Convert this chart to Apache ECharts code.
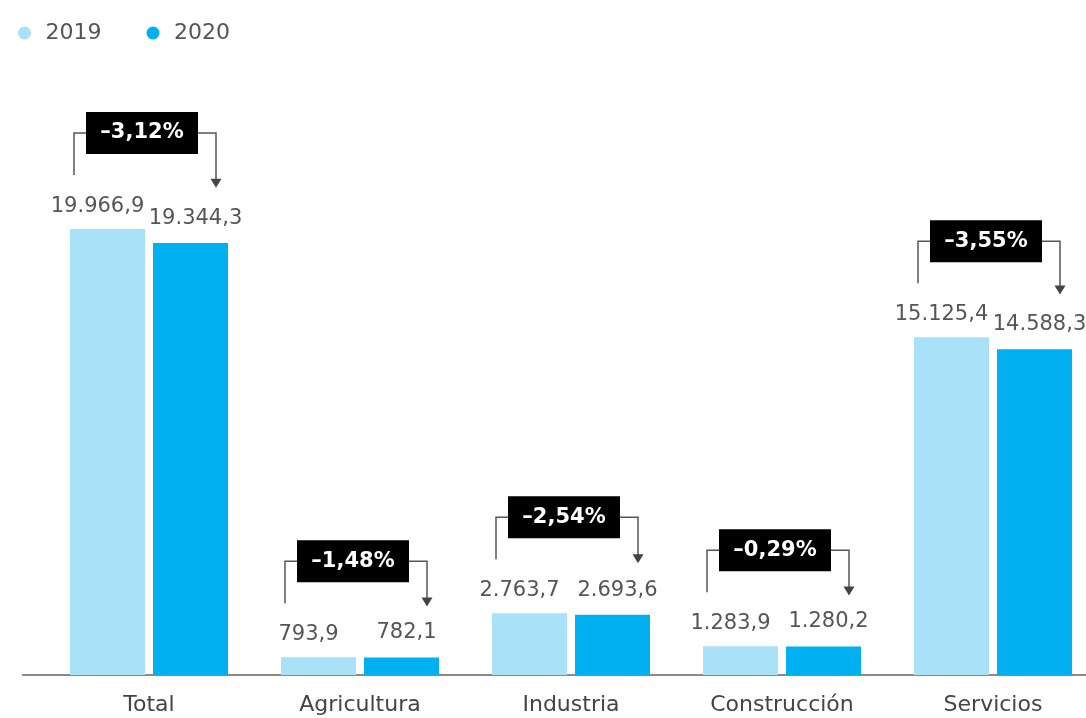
<!DOCTYPE html>
<html>
<head>
<meta charset="utf-8">
<style>
  html, body { margin: 0; padding: 0; background: #fff; }
  #chart { width: 1086px; height: 718px; }
</style>
<script src="https://cdn.jsdelivr.net/npm/echarts@6/dist/echarts.min.js"></script>
</head>
<body>
<div id="chart"></div>
<script>
const sectores = ['Total', 'Agricultura', 'Industria', 'Construcción', 'Servicios']
const ocupados2019 = [19966.9, 793.9, 2763.7, 1283.9, 15125.4]
const ocupados2020 = [19344.3, 782.1, 2693.6, 1280.2, 14588.3]
const variacion = [-3.12, -1.48, -2.54, -0.29, -3.55]

const FONT = 'DejaVu Sans'

// 19966.9 -> "19.966,9"
function fmt(v) {
  const parts = v.toFixed(1).split('.')
  return parts[0].replace(/\B(?=(\d{3})+(?!\d))/g, '.') + ',' + parts[1]
}
function fmtPct(p) {
  return (p < 0 ? '\u2013' : '+') + Math.abs(p).toFixed(2).replace('.', ',') + '%'
}

const bracketData = sectores.map((s, i) => [i, ocupados2019[i], ocupados2020[i], variacion[i]])

const chart = echarts.init(document.getElementById('chart'))
chart.setOption({
  animation: false,
  legend: {
    data: ['2019', '2020'],
    left: 13,
    top: 17,
    icon: 'circle',
    itemWidth: 32,
    itemHeight: 13,
    itemGap: 45,
    textStyle: { color: '#555', fontSize: 22, fontFamily: FONT }
  },
  // the last group runs past the right edge, as in the source image
  grid: { left: 43.5, width: 1055, top: 116.6, bottom: 43, outerBoundsMode: 'none' },
  xAxis: {
    type: 'category',
    data: sectores,
    axisTick: { show: false },
    axisLine: { lineStyle: { color: '#8a8a8a', width: 2 } },
    axisLabel: { color: '#444', fontSize: 22, fontFamily: FONT, margin: 19 }
  },
  yAxis: {
    type: 'value',
    min: 0,
    max: 25000,
    show: false,
    splitLine: { show: false }
  },
  graphic: [{
    type: 'line',
    shape: { x1: 22, y1: 675, x2: 46, y2: 675 },
    style: { stroke: '#8a8a8a', lineWidth: 2 }
  }],
  series: [
    {
      name: '2019',
      type: 'bar',
      data: ocupados2019,
      barWidth: 75,
      barGap: '10.7%',
      itemStyle: { color: '#a9e1f8' },
      label: {
        show: true,
        position: 'top',
        distance: 12,
        offset: [-10, 0],
        color: '#555',
        fontSize: 21,
        fontFamily: FONT,
        formatter: p => fmt(p.value)
      }
    },
    {
      name: '2020',
      type: 'bar',
      data: ocupados2020,
      barWidth: 75,
      itemStyle: { color: '#00b0f0' },
      label: {
        show: true,
        position: 'top',
        distance: 14,
        offset: [5, 0],
        color: '#555',
        fontSize: 21,
        fontFamily: FONT,
        formatter: p => fmt(p.value)
      }
    },
    {
      name: 'variacion',
      type: 'custom',
      data: bracketData,
      encode: { x: 0, y: 1 },
      z: 10,
      renderItem(params, api) {
        const i = api.value(0)
        const a = api.coord([i, api.value(1)])
        const b = api.coord([i, api.value(2)])
        const cx = a[0]
        const yLine = a[1] - 96
        const xl = cx - 75
        const xr = cx + 67
        const tip = yLine + 45 + 0.7 * (b[1] - a[1])
        return {
          type: 'group',
          children: [
            {
              type: 'polyline',
              shape: { points: [[xl, yLine + 42], [xl, yLine], [xr, yLine], [xr, tip - 8]] },
              style: { stroke: '#555', lineWidth: 1.5, fill: null }
            },
            {
              type: 'polygon',
              shape: { points: [[xr - 5.5, tip - 9], [xr + 5.5, tip - 9], [xr, tip]] },
              style: { fill: '#444' }
            },
            {
              type: 'rect',
              shape: { x: cx - 63, y: yLine - 21, width: 112, height: 42 },
              style: { fill: '#000' }
            },
            {
              type: 'text',
              style: {
                text: fmtPct(api.value(3)),
                x: cx - 7,
                y: yLine,
                align: 'center',
                verticalAlign: 'middle',
                fill: '#fff',
                fontSize: 21,
                fontWeight: 'bold',
                fontFamily: FONT
              }
            }
          ]
        }
      }
    }
  ]
})
</script>
</body>
</html>
